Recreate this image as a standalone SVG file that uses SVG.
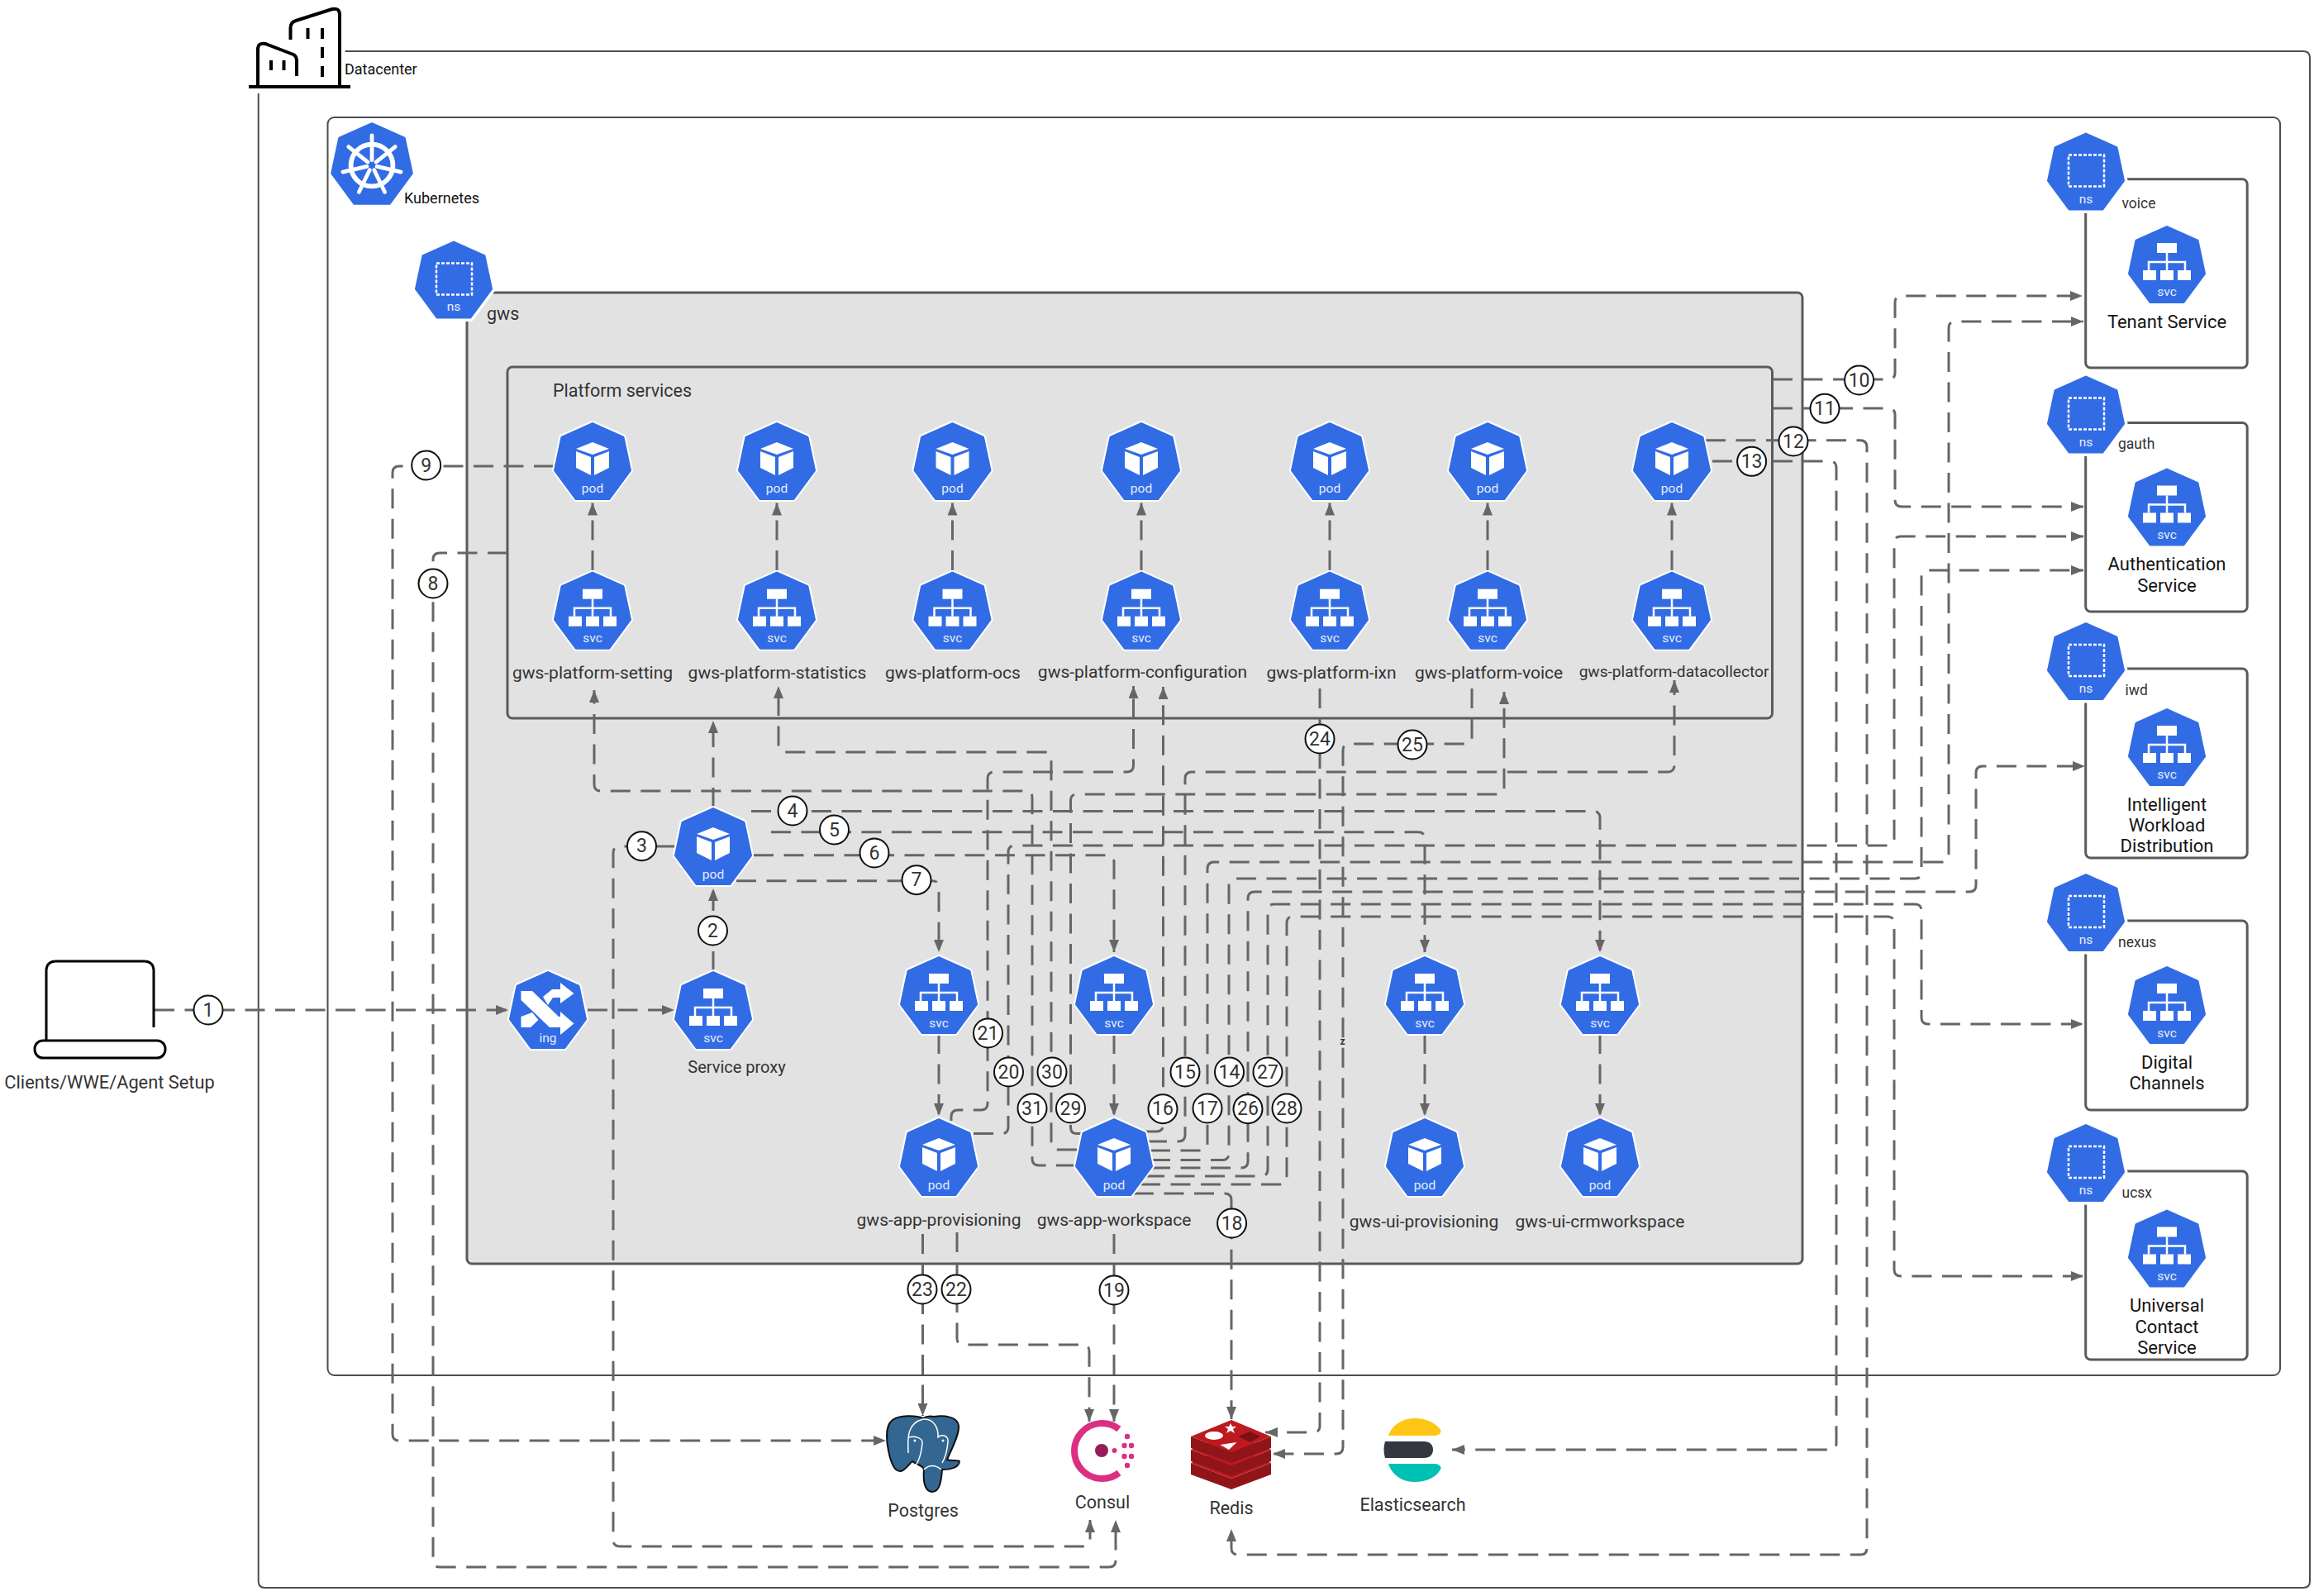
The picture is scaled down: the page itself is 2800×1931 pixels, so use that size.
<svg xmlns="http://www.w3.org/2000/svg" width="2800" height="1931" viewBox="0 0 2800 1931">
<style>
text{font-family:Roboto,"Liberation Sans",sans-serif;dominant-baseline:central}
.frame{fill:none;stroke:#4d4d4d;stroke-width:2}
.box{fill:none;stroke:#5a5a5a;stroke-width:3}
.ic{fill:#e6eeff;font-size:15.5px;text-anchor:middle}
.lbl{fill:#333;font-size:21px;text-anchor:middle}
.svcl{fill:#141414;font-size:22px;text-anchor:middle}
.ns{fill:#333;font-size:17.5px}
.num{fill:#333;font-size:23px;text-anchor:middle}
.nc{fill:#fff;stroke:#111;stroke-width:2}
.c path{fill:none;stroke:#666;stroke-width:3;stroke-dasharray:24 12.5;marker-end:url(#ah)}
.ink{fill:none;stroke:#000;stroke-width:4}
.w{fill:#fff}
</style>
<defs>
<marker id="ah" markerUnits="userSpaceOnUse" markerWidth="15" markerHeight="12" refX="15" refY="6" orient="auto"><polygon points="0,0 15,6 0,12" fill="#666"/></marker>
<g id="hep"><polygon points="0,-45.5 37,-29 45.5,11 20,45.5 -20,45.5 -45.5,11 -37,-29" fill="#fff" stroke="#fff" stroke-width="7" stroke-linejoin="round"/><polygon points="0,-45.5 37,-29 45.5,11 20,45.5 -20,45.5 -45.5,11 -37,-29" fill="#326ce5" stroke="#326ce5" stroke-width="3" stroke-linejoin="round"/></g>
<g id="pod"><use href="#hep"/><polygon class="w" points="0,-23 20,-15 0,-8 -20,-15"/><polygon class="w" points="-20,-12 -2,-5 -2,17 -20,8"/><polygon class="w" points="20,-12 2,-5 2,17 20,8"/></g>
<g id="svc"><use href="#hep"/><rect class="w" x="-12" y="-26" width="24" height="12"/><path d="M0,-14V7M-22,7V-3H22V7" fill="none" stroke="#fff" stroke-width="2.5"/><rect class="w" x="-29" y="7" width="16" height="12"/><rect class="w" x="-8" y="7" width="16" height="12"/><rect class="w" x="13" y="7" width="16" height="12"/></g>
<g id="ns"><polygon points="0,-45.5 37,-29 45.5,11 20,45.5 -20,45.5 -45.5,11 -37,-29" fill="#fff" stroke="#fff" stroke-width="10" stroke-linejoin="round"/><polygon points="0,-45.5 37,-29 45.5,11 20,45.5 -20,45.5 -45.5,11 -37,-29" fill="#326ce5" stroke="#326ce5" stroke-width="3" stroke-linejoin="round"/><rect x="-21" y="-20" width="43" height="38" fill="none" stroke="#fff" stroke-width="2.5" stroke-dasharray="4 2"/></g>
</defs>

<g id="frames">
<path class="frame" d="M417.500,62H2787Q2795,62 2795,70V1913Q2795,1921 2787,1921H320.500Q312.700,1921 312.700,1913V113"/>
<rect class="frame" x="396.500" y="142" width="2362.500" height="1522" rx="8" fill="#fff"/>
<rect class="box" x="565" y="354" width="1616" height="1175" rx="6" style="fill:#e2e2e2"/>
<rect class="box" x="614" y="444" width="1530.500" height="425" rx="6"/>
<rect class="box" x="2523.700" y="216.700" width="195.500" height="228.300" rx="6"/>
<rect class="box" x="2523.700" y="511.500" width="195.500" height="228.500" rx="6"/>
<rect class="box" x="2523.700" y="809" width="195.500" height="229" rx="6"/>
<rect class="box" x="2523.700" y="1114" width="195.500" height="229" rx="6"/>
<rect class="box" x="2523.700" y="1417" width="195.500" height="228" rx="6"/>
</g>

<g id="connectors" class="c">
<path d="M187,1222H615"/>
<path d="M711,1222H816"/>
<path d="M863,1175V1075"/>
<path d="M863,977V872"/>
<path d="M816,1024H750Q742,1024 742,1032V1863Q742,1871 750,1871H1311Q1319,1871 1319,1863V1839"/>
<path d="M909,981.500H1928Q1936,981.500 1936,990V1152"/>
<path d="M933,1006.700H1716Q1724,1006.700 1724,1015V1152"/>
<path d="M912,1034.700H1340Q1348,1034.700 1348,1043V1152"/>
<path d="M891,1065.700H1128Q1136,1065.700 1136,1074V1152"/>
<path d="M614,669H532Q524,669 524,677V1888Q524,1896 532,1896H1342Q1350,1896 1350,1888V1839"/>
<path d="M670,564H483Q475,564 475,572V1735Q475,1743 483,1743H1072"/>
<path d="M2145,459H2285Q2293,459 2293,451V366Q2293,358 2301,358H2520"/>
<path d="M2145,494H2285Q2293,494 2293,502V605Q2293,613 2301,613H2521"/>
<path d="M2064,532.700H2251Q2259,532.700 2259,541V1873Q2259,1881 2251,1881H1498Q1490,1881 1490,1873V1850"/>
<path d="M2072,558H2214Q2222,558 2222,566V1746Q2222,1754 2214,1754H1757"/>
<path d="M1392,1403.500H1479Q1487,1403.500 1487,1395V1071Q1487,1063 1495,1063H2317Q2325,1063 2325,1055V698Q2325,690 2333,690H2521"/>
<path d="M1388,1381H1426Q1434,1381 1434,1373V942Q1434,934 1442,934H2018Q2026,934 2026,926V823"/>
<path d="M1385,1369H1399Q1407.500,1369 1407.500,1361V831"/>
<path d="M1392,1392H1453Q1461,1392 1461,1384V1051Q1461,1043 1469,1043H2350Q2358,1043 2358,1035V397Q2358,389 2366,389H2521"/>
<path d="M1372,1444H1482Q1490,1444 1490,1452V1717"/>
<path d="M1348,1493V1720"/>
<path d="M1178,1371.600H1212Q1220,1371.600 1220,1363V1031Q1220,1023 1228,1023H2284Q2292,1023 2292,1015V657Q2292,649 2300,649H2521"/>
<path d="M1151,1356V1351Q1151,1343 1159,1343H1187Q1195,1343 1195,1335V942Q1195,934 1203,934H1363.500Q1371.500,934 1371.500,926V830"/>
<path d="M1158,1491V1619Q1158,1627 1166,1627H1310Q1318,1627 1318,1635V1720"/>
<path d="M1116.500,1493V1713"/>
<path d="M1597,833V1725Q1597,1733 1589,1733H1531"/>
<path d="M1781,833V892Q1781,900 1773,900H1633Q1625,900 1625,908V1751Q1625,1759 1617,1759H1540"/>
<path d="M1392,1413H1502Q1510,1413 1510,1405V1087Q1510,1079 1518,1079H2383Q2391,1079 2391,1071V935Q2391,927 2399,927H2523"/>
<path d="M1385,1423H1526Q1534,1423 1534,1415V1102Q1534,1094 1542,1094H2317Q2325,1094 2325,1102V1231Q2325,1239 2333,1239H2521"/>
<path d="M1380,1433H1549Q1557,1433 1557,1425V1117Q1557,1109 1565,1109H2284Q2292,1109 2292,1117V1536Q2292,1544 2300,1544H2521"/>
<path d="M1312,1371.600H1303Q1295.500,1371.600 1295.500,1364V969Q1295.500,961 1303,961H1812Q1820,961 1820,953V837"/>
<path d="M1303,1391H1280Q1272,1391 1272,1383V918Q1272,910 1264,910H950Q942,910 942,902V830"/>
<path d="M1302,1410H1257Q1249,1410 1249,1402V965Q1249,957 1241,957H727Q719,957 719,949V835"/>
<path d="M717,690V608.500"/><path d="M940,690V608.500"/><path d="M1152.500,690V608.500"/><path d="M1381,690V608.500"/><path d="M1609,690V608.500"/><path d="M1800,690V608.500"/><path d="M2023,690V608.500"/>
<path d="M1136,1251V1350"/><path d="M1348,1251V1350"/><path d="M1724,1251V1350"/><path d="M1936,1251V1350"/>
</g>

<g id="connector-labels">
<g class="nc">
<circle cx="252" cy="1222" r="17.500"/><circle cx="862.500" cy="1126" r="17.500"/><circle cx="776.500" cy="1023.700" r="17.500"/><circle cx="959" cy="981" r="17.500"/><circle cx="1009.500" cy="1004" r="17.500"/><circle cx="1058" cy="1032" r="17.500"/><circle cx="1109" cy="1064.700" r="17.500"/><circle cx="524" cy="706" r="17.500"/><circle cx="515.700" cy="563" r="17.500"/><circle cx="2249.600" cy="460" r="17.500"/><circle cx="2208" cy="494.300" r="17.500"/><circle cx="2170" cy="534" r="17.500"/><circle cx="2119.600" cy="558.300" r="17.500"/><circle cx="1487.500" cy="1297" r="17.500"/><circle cx="1434" cy="1297" r="17.500"/><circle cx="1407" cy="1341.700" r="17.500"/><circle cx="1461" cy="1341" r="17.500"/><circle cx="1490.600" cy="1480" r="17.500"/><circle cx="1348" cy="1561" r="17.500"/><circle cx="1220.500" cy="1297" r="17.500"/><circle cx="1195.500" cy="1250" r="17.500"/><circle cx="1157" cy="1560" r="17.500"/><circle cx="1116" cy="1560" r="17.500"/><circle cx="1597" cy="894" r="17.500"/><circle cx="1709" cy="901" r="17.500"/><circle cx="1510" cy="1341.700" r="17.500"/><circle cx="1534" cy="1297" r="17.500"/><circle cx="1557" cy="1341" r="17.500"/><circle cx="1295.500" cy="1341" r="17.500"/><circle cx="1273" cy="1297" r="17.500"/><circle cx="1249" cy="1341" r="17.500"/>
</g>
<text class="num" x="252" y="1222">1</text><text class="num" x="862.500" y="1126">2</text><text class="num" x="776.500" y="1023.700">3</text><text class="num" x="959" y="981">4</text><text class="num" x="1009.500" y="1004">5</text><text class="num" x="1058" y="1032">6</text><text class="num" x="1109" y="1064.700">7</text><text class="num" x="524" y="706">8</text><text class="num" x="515.700" y="563">9</text><text class="num" x="2249.600" y="460">10</text><text class="num" x="2208" y="494.300">11</text><text class="num" x="2170" y="534">12</text><text class="num" x="2119.600" y="558.300">13</text><text class="num" x="1487.500" y="1297">14</text><text class="num" x="1434" y="1297">15</text><text class="num" x="1407" y="1341.700">16</text><text class="num" x="1461" y="1341">17</text><text class="num" x="1490.600" y="1480">18</text><text class="num" x="1348" y="1561">19</text><text class="num" x="1220.500" y="1297">20</text><text class="num" x="1195.500" y="1250">21</text><text class="num" x="1157" y="1560">22</text><text class="num" x="1116" y="1560">23</text><text class="num" x="1597" y="894">24</text><text class="num" x="1709" y="901">25</text><text class="num" x="1510" y="1341.700">26</text><text class="num" x="1534" y="1297">27</text><text class="num" x="1557" y="1341">28</text><text class="num" x="1295.500" y="1341">29</text><text class="num" x="1273" y="1297">30</text><text class="num" x="1249" y="1341">31</text>
<text x="1624.500" y="1260" style="font-size:12px;font-weight:700;text-anchor:middle;fill:#333">z</text>
</g>

<g id="datacenter">
<path class="ink" d="M301,105H424M312,105V60Q312,51 321,53L355,66Q359,68 359,74V92M351.500,48V34Q351.500,27 358,25L402,11Q411,9 411,18V105M328,73V85M343.500,73V85M372.500,34V47M390,34V47M390,57V70M390,80V93"/>
<text x="417" y="83" style="font-size:18px;fill:#111">Datacenter</text>
</g>

<g id="clients">
<path class="ink" style="stroke-width:3" d="M56,1258V1175Q56,1163 68,1163H174Q186,1163 186,1175V1243"/>
<rect x="42" y="1259" width="158" height="21" rx="10" fill="#fff" stroke="#000" stroke-width="3"/>
<text x="132.500" y="1309" style="font-size:21.800px;fill:#333;text-anchor:middle">Clients/WWE/Agent Setup</text>
</g>

<g id="kubernetes">
<g transform="translate(450,198) scale(1.06)">
<polygon points="0,-45.500 37,-29 45.500,11 20,45.500 -20,45.500 -45.500,11 -37,-29" fill="#326ce5" stroke="#326ce5" stroke-width="3" stroke-linejoin="round"/>
<g fill="none" stroke="#fff" stroke-linecap="round" transform="translate(0,1.900)"><circle r="24" stroke-width="5.500"/><path stroke-width="4.500" d="M0,-34V-6M26.600,-21.200L4.700,-3.700M33.100,7.600L5.800,1.300M14.800,30.600L2.600,5.400M-14.800,30.600L-2.600,5.400M-33.100,7.600L-5.800,1.300M-26.600,-21.200L-4.700,-3.700"/></g>
</g>
<text x="489" y="239" style="font-size:18px;fill:#111">Kubernetes</text>
</g>

<g id="ns-gws"><use href="#ns" x="549" y="338.500"/><text class="ic" x="549" y="371">ns</text><text x="589" y="379" style="font-size:21.500px;fill:#333">gws</text></g>
<text x="669" y="472" style="font-size:21.500px;fill:#333">Platform services</text>

<g id="pod-setting"><use href="#pod" x="717" y="558"/><text class="ic" x="717" y="591">pod</text></g>
<g id="svc-setting"><use href="#svc" x="717" y="738.700"/><text class="ic" x="717" y="772">svc</text><text class="lbl" x="717" y="813.500">gws-platform-setting</text></g>
<g id="pod-statistics"><use href="#pod" x="940" y="558"/><text class="ic" x="940" y="591">pod</text></g>
<g id="svc-statistics"><use href="#svc" x="940" y="738.700"/><text class="ic" x="940" y="772">svc</text><text class="lbl" x="940.500" y="813.500">gws-platform-statistics</text></g>
<g id="pod-ocs"><use href="#pod" x="1152.500" y="558"/><text class="ic" x="1152.500" y="591">pod</text></g>
<g id="svc-ocs"><use href="#svc" x="1152.500" y="738.700"/><text class="ic" x="1152.500" y="772">svc</text><text class="lbl" x="1153" y="813.500">gws-platform-ocs</text></g>
<g id="pod-configuration"><use href="#pod" x="1381" y="558"/><text class="ic" x="1381" y="591">pod</text></g>
<g id="svc-configuration"><use href="#svc" x="1381" y="738.700"/><text class="ic" x="1381" y="772">svc</text><text class="lbl" x="1382.500" y="812.500">gws-platform-configuration</text></g>
<g id="pod-ixn"><use href="#pod" x="1609" y="558"/><text class="ic" x="1609" y="591">pod</text></g>
<g id="svc-ixn"><use href="#svc" x="1609" y="738.700"/><text class="ic" x="1609" y="772">svc</text><text class="lbl" x="1611" y="813.500">gws-platform-ixn</text></g>
<g id="pod-voice"><use href="#pod" x="1800" y="558"/><text class="ic" x="1800" y="591">pod</text></g>
<g id="svc-voice"><use href="#svc" x="1800" y="738.700"/><text class="ic" x="1800" y="772">svc</text><text class="lbl" x="1801.500" y="813.500">gws-platform-voice</text></g>
<g id="pod-datacollector"><use href="#pod" x="2023" y="558"/><text class="ic" x="2023" y="591">pod</text></g>
<g id="svc-datacollector"><use href="#svc" x="2023" y="738.700"/><text class="ic" x="2023" y="772">svc</text><text class="lbl" x="2025.500" y="812.500" style="font-size:19.100px">gws-platform-datacollector</text></g>

<g id="ing"><use href="#hep" x="663" y="1222"/><g transform="translate(663,1222)"><polygon class="w" points="-32.500,-23 -19,-23 13,8 15,8 15,2 31.500,16.500 15,30 15,21 2,21 -32.500,-12"/><polygon class="w" points="15,-33 31.500,-20 15,-8 15,-15 6,-15 0,-6 -6,-16 5,-25 15,-25"/><polygon class="w" points="-32.500,8 -19,3 -11.500,12 -21,21 -32.500,21"/></g><text class="ic" x="663" y="1256">ing</text></g>
<g id="svc-proxy"><use href="#svc" x="863" y="1222"/><text class="ic" x="863" y="1256">svc</text><text x="891.500" y="1291" style="font-size:20px;fill:#333;text-anchor:middle">Service proxy</text></g>
<g id="pod-gws"><use href="#pod" x="863" y="1024"/><text class="ic" x="863" y="1058">pod</text></g>

<g id="svc-app-provisioning"><use href="#svc" x="1136" y="1204"/><text class="ic" x="1136" y="1238">svc</text></g>
<g id="pod-app-provisioning"><use href="#pod" x="1136" y="1400"/><text class="ic" x="1136" y="1434">pod</text><text class="lbl" x="1136" y="1475.500">gws-app-provisioning</text></g>
<g id="svc-app-workspace"><use href="#svc" x="1348" y="1204"/><text class="ic" x="1348" y="1238">svc</text></g>
<g id="pod-app-workspace"><use href="#pod" x="1348" y="1400"/><text class="ic" x="1348" y="1434">pod</text><text class="lbl" x="1348" y="1475.500">gws-app-workspace</text></g>
<g id="svc-ui-provisioning"><use href="#svc" x="1724" y="1204"/><text class="ic" x="1724" y="1238">svc</text></g>
<g id="pod-ui-provisioning"><use href="#pod" x="1724" y="1400"/><text class="ic" x="1724" y="1434">pod</text><text class="lbl" x="1723" y="1477.500">gws-ui-provisioning</text></g>
<g id="svc-ui-crmworkspace"><use href="#svc" x="1936" y="1204"/><text class="ic" x="1936" y="1238">svc</text></g>
<g id="pod-ui-crmworkspace"><use href="#pod" x="1936" y="1400"/><text class="ic" x="1936" y="1434">pod</text><text class="lbl" x="1936" y="1477.500">gws-ui-crmworkspace</text></g>

<g id="tenant"><use href="#ns" x="2524" y="207.500"/><text class="ic" x="2524" y="241">ns</text><text class="ns" x="2567.500" y="245.500">voice</text><use href="#svc" x="2622" y="320"/><text class="ic" x="2622" y="353">svc</text><text class="svcl" x="2622" y="389">Tenant Service</text></g>
<g id="auth"><use href="#ns" x="2524" y="501.500"/><text class="ic" x="2524" y="535">ns</text><text class="ns" x="2563" y="537">gauth</text><use href="#svc" x="2622" y="613.500"/><text class="ic" x="2622" y="647">svc</text><text class="svcl" x="2622" y="682.500">Authentication</text><text class="svcl" x="2622" y="708">Service</text></g>
<g id="iwd"><use href="#ns" x="2524" y="800"/><text class="ic" x="2524" y="833">ns</text><text class="ns" x="2571.500" y="835">iwd</text><use href="#svc" x="2622" y="904"/><text class="ic" x="2622" y="937">svc</text><text class="svcl" x="2622" y="973">Intelligent</text><text class="svcl" x="2622" y="998">Workload</text><text class="svcl" x="2622" y="1023.500">Distribution</text></g>
<g id="nexus"><use href="#ns" x="2524" y="1104"/><text class="ic" x="2524" y="1137">ns</text><text class="ns" x="2563" y="1139.500">nexus</text><use href="#svc" x="2622" y="1216"/><text class="ic" x="2622" y="1250">svc</text><text class="svcl" x="2622" y="1285">Digital</text><text class="svcl" x="2622" y="1310">Channels</text></g>
<g id="ucsx"><use href="#ns" x="2524" y="1407"/><text class="ic" x="2524" y="1440">ns</text><text class="ns" x="2567.500" y="1442.500">ucsx</text><use href="#svc" x="2622" y="1510.500"/><text class="ic" x="2622" y="1544">svc</text><text class="svcl" x="2622" y="1579">Universal</text><text class="svcl" x="2622" y="1605">Contact</text><text class="svcl" x="2622" y="1630">Service</text></g>

<g id="postgres">
<path d="M1117,1716C1108,1712 1088,1712 1080,1718C1072,1724 1072,1740 1075,1755C1078,1770 1083,1781 1090,1780C1096,1779 1100,1771 1104,1768C1108,1772 1116,1772 1118,1778C1117,1790 1118,1804 1128,1805C1137,1805 1139,1792 1140,1778C1148,1778 1160,1777 1161,1768C1160,1766 1152,1768 1146,1766C1152,1752 1161,1735 1160,1725C1159,1714 1142,1712 1130,1714C1125,1713 1120,1714 1117,1716Z" fill="#336791" stroke="#111" stroke-width="2"/>
<path d="M1099,1758C1098,1738 1098,1722 1117,1717C1130,1716 1136,1728 1135,1740M1100,1739C1107,1737 1116,1740 1116,1745C1115,1760 1112,1770 1104,1778M1136,1738C1142,1735 1148,1738 1147,1745C1146,1755 1143,1765 1140,1770M1118,1778C1124,1772 1132,1772 1139,1778" fill="none" stroke="#fff" stroke-width="1.500"/>
<circle cx="1107" cy="1743" r="1.500" fill="#fff"/><circle cx="1141" cy="1743" r="1.500" fill="#fff"/>
<text x="1117" y="1827" style="font-size:21.500px;fill:#333;text-anchor:middle">Postgres</text>
</g>
<g id="consul">
<path d="M1354,1729A33.500,33.500 0 1 0 1354,1782" fill="none" stroke="#dc2f82" stroke-width="8"/>
<ellipse cx="1333" cy="1755" rx="8" ry="8" fill="#961d59"/>
<g fill="#dc2f82"><circle cx="1348.500" cy="1755" r="3"/><circle cx="1360.500" cy="1749" r="3.200"/><circle cx="1369" cy="1749" r="3.200"/><circle cx="1360.500" cy="1762" r="3.200"/><circle cx="1369" cy="1762" r="3.200"/><circle cx="1364" cy="1738" r="3.200"/><circle cx="1364" cy="1773" r="3.200"/></g>
<text x="1334" y="1817" style="font-size:21.500px;fill:#333;text-anchor:middle">Consul</text>
</g>
<g id="redis">
<polygon points="1441,1770 1490,1789 1538,1770 1538,1784 1490,1802 1441,1784" fill="#8f1519"/>
<polygon points="1490,1750 1538,1770 1490,1789 1441,1770" fill="#bd1a20"/>
<polygon points="1441,1754 1490,1773 1538,1754 1538,1768 1490,1786 1441,1768" fill="#8f1519"/>
<polygon points="1490,1734 1538,1754 1490,1773 1441,1754" fill="#bd1a20"/>
<polygon points="1441,1738 1490,1757 1538,1738 1538,1752 1490,1770 1441,1752" fill="#8f1519"/>
<polygon points="1490,1718 1538,1738 1490,1757 1441,1738" fill="#bd1a20"/>
<polygon class="w" points="1489,1722 1491,1726 1496,1726 1492,1729 1494,1734 1489,1731 1484,1734 1486,1729 1482,1726 1487,1726"/>
<ellipse class="w" cx="1469" cy="1737" rx="11" ry="5"/>
<polygon class="w" points="1476.500,1748 1496.500,1745 1487,1754"/>
<polygon points="1498,1738 1512.600,1732 1525,1738 1512.600,1745" fill="#7a1014"/>
<text x="1490" y="1824" style="font-size:21.500px;fill:#333;text-anchor:middle">Redis</text>
</g>
<g id="elasticsearch">
<path d="M1680,1737C1684,1725 1696,1716 1712,1716C1726,1716 1738,1722 1743,1730C1745,1733 1741,1737 1736,1737Z" fill="#fec514"/>
<path d="M1676,1744H1723C1730,1744 1734,1748 1734,1754C1734,1760 1730,1764 1723,1764H1676C1674,1758 1674,1750 1676,1744Z" fill="#343741"/>
<path d="M1680,1771H1736C1741,1771 1745,1775 1743,1778C1738,1787 1726,1793 1712,1793C1696,1793 1684,1784 1680,1771Z" fill="#00bfb3"/>
<text x="1709.500" y="1820.500" style="font-size:21.500px;fill:#333;text-anchor:middle">Elasticsearch</text>
</g>
</svg>
